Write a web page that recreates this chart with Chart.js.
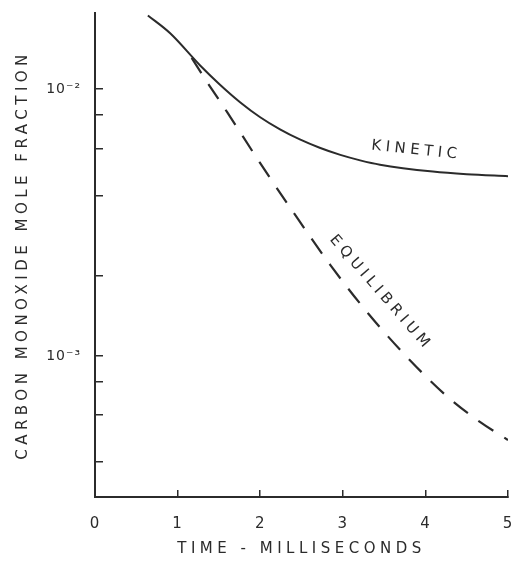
<!DOCTYPE html>
<html>
<head>
<meta charset="utf-8">
<script src="https://cdn.jsdelivr.net/npm/chart.js@4/dist/chart.umd.min.js"></script>
<style>
  html, body { margin: 0; padding: 0; background: #fff; }
  #wrap { width: 511px; height: 563px; }
</style>
</head>
<body>
<div id="wrap"><canvas id="coChart" width="511" height="563"></canvas></div>
<script>
// Time (ms) and CO mole fraction
const kineticTime = [0.64, 0.91, 1.27, 1.51, 1.76, 2.00, 2.24, 2.48, 2.72, 2.97, 3.21, 3.45, 4.09, 4.50, 5.0];
const kineticCO = [0.0189, 0.0162, 0.0123, 0.01042, 0.00892, 0.00785, 0.00707, 0.00648, 0.00603, 0.00567, 0.00541, 0.00521, 0.00491, 0.0048, 0.00472];

const equilTime = [1.17, 1.36, 1.60, 2.00, 2.40, 2.85, 3.31, 3.81, 4.27, 4.66, 5.0];
const equilCO = [0.0131, 0.0106, 0.0082, 0.00528, 0.00346, 0.00219, 0.00144, 0.000966, 0.000702, 0.000566, 0.000484];

// Axis ticks
const xTicks = [0, 1, 2, 3, 4, 5];
const yTicks = [0.0004, 0.0006, 0.0008, 0.001, 0.002, 0.004, 0.006, 0.008, 0.01];
const yTickLabels = { '0.001': '10⁻³', '0.01': '10⁻²' };

// Curve labels: [text, x, y, angle in degrees]
const curveLabels = [
  ['KINETIC', 3.89, 0.0059, 6],
  ['EQUILIBRIUM', 3.46, 0.00172, 49]
];

const ink = '#2b2b2b';
const wide = '4.5px';   // axis titles and curve labels
const narrow = '1px';   // tick numbers

const toPoints = (xs, ys) => xs.map((x, i) => ({ x: x, y: ys[i] }));

// hand-lettered look: wide letter spacing for titles (drawn before datasets),
// tighter spacing for tick labels (ticks.z = 1, drawn after datasets)
const spacingPlugin = {
  id: 'spacing',
  beforeLayout(chart) { chart.ctx.letterSpacing = wide; },
  beforeDraw(chart) { chart.ctx.letterSpacing = wide; },
  afterDatasetsDraw(chart) {
    const { ctx, scales } = chart;
    ctx.save();
    ctx.letterSpacing = wide;
    ctx.fillStyle = ink;
    ctx.font = '15px "DejaVu Sans"';
    ctx.textAlign = 'center';
    ctx.textBaseline = 'middle';
    curveLabels.forEach(([text, x, y, angle]) => {
      ctx.save();
      ctx.translate(scales.x.getPixelForValue(x), scales.y.getPixelForValue(y));
      ctx.rotate(angle * Math.PI / 180);
      ctx.fillText(text, 0, 0);
      ctx.restore();
    });
    ctx.restore();
    ctx.letterSpacing = narrow;
  }
};

new Chart(document.getElementById('coChart'), {
  type: 'line',
  data: {
    datasets: [
      {
        label: 'Kinetic',
        data: toPoints(kineticTime, kineticCO),
        borderColor: ink,
        borderWidth: 2,
        pointRadius: 0,
        cubicInterpolationMode: 'monotone',
        fill: false
      },
      {
        label: 'Equilibrium',
        data: toPoints(equilTime, equilCO),
        borderColor: ink,
        borderWidth: 2.2,
        borderDash: [18, 13],
        pointRadius: 0,
        cubicInterpolationMode: 'monotone',
        fill: false
      }
    ]
  },
  options: {
    responsive: false,
    animation: false,
    layout: { padding: { top: 13, right: 3, left: 0, bottom: 0 } },
    plugins: {
      legend: { display: false },
      tooltip: { enabled: false }
    },
    scales: {
      x: {
        type: 'linear',
        min: 0,
        max: 5,
        afterBuildTicks: s => { s.ticks = xTicks.map(v => ({ value: v })); },
        afterFit: s => {
          s.height = 66;
          s.paddingLeft = 0;
          s.paddingRight = 0;
        },
        grid: { drawOnChartArea: false, drawTicks: true, tickLength: -7, color: ink, lineWidth: 1.5 },
        border: { display: true, color: ink, width: 2 },
        ticks: {
          z: 1,
          padding: 25,
          color: ink,
          font: { family: 'DejaVu Sans', size: 15 },
          maxRotation: 0
        },
        title: {
          display: true,
          text: 'TIME - MILLISECONDS',
          color: ink,
          font: { family: 'DejaVu Sans', size: 15 },
          padding: { top: 0, bottom: 5 }
        }
      },
      y: {
        type: 'logarithmic',
        min: 0.000296,
        max: 0.0193,
        afterBuildTicks: s => { s.ticks = yTicks.map(v => ({ value: v })); },
        afterFit: s => {
          s.width = 95;
          s.paddingTop = 0;
          s.paddingBottom = 0;
        },
        grid: { drawOnChartArea: false, drawTicks: true, tickLength: -8, color: ink, lineWidth: 1.5 },
        border: { display: true, color: ink, width: 2 },
        ticks: {
          z: 1,
          padding: 22,
          color: ink,
          font: { family: 'DejaVu Sans', size: 14 },
          callback: v => yTickLabels[String(v)] || ''
        },
        title: {
          display: true,
          text: 'CARBON MONOXIDE MOLE FRACTION',
          color: ink,
          font: { family: 'DejaVu Sans', size: 15 },
          padding: { top: 14, bottom: 0 }
        }
      }
    }
  },
  plugins: [spacingPlugin]
});
</script>
</body>
</html>
